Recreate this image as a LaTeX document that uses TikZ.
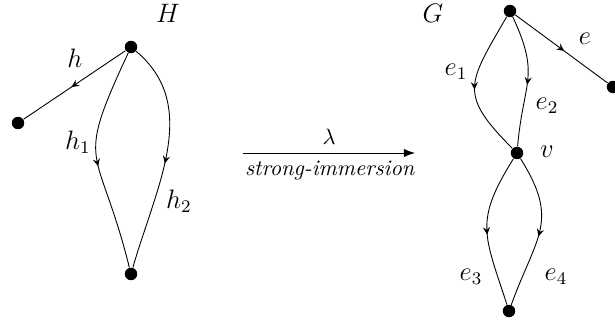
\documentclass[tikz,border=0pt]{standalone}
\usepackage{amsmath,amssymb}
\usetikzlibrary{arrows.meta,decorations.markings,positioning}

\begin{document}
\begin{tikzpicture}[
  x=0.45pt, y=0.45pt,
  vtx/.style={circle, fill=black, inner sep=0pt, minimum size=5.6pt},
  lbl/.style={font=\large},
  midarr/.style={postaction={decorate}, decoration={markings,
                 mark=at position 0.53 with {\arrow{Stealth[length=3.4pt,width=3.2pt,inset=1.2pt]}}}}
]
  \useasboundingbox (0,0) rectangle (615,324);

  % graph H
  \node[vtx] (Ht) at (131,277) {};
  \node[vtx] (Hl) at (18,201) {};
  \node[vtx] (Hb) at (131,50) {};
  \node[lbl] (Hname) at (168,311) {$H$};

  \draw[midarr] (Ht) -- (Hl);
  \draw[midarr] (Ht) to[out=245, in=104, looseness=1.55] (Hb);
  \draw[midarr] (Ht) to[out=-40, in=74] (Hb);

  \node[lbl] (lh)  at (75,266)  {$h$};
  \node[lbl] (lh1) at (78,182)  {$h_1$};
  \node[lbl] (lh2) at (179,123) {$h_2$};

  % the map
  \coordinate (mapA) at (243,171);
  \coordinate (mapB) at (415,171);
  \draw[-{Latex[length=5pt]}] (mapA) -- (mapB);
  \node (lam) at (329,187) {$\lambda$};
  \node (imm) at (330,153) {\textit{strong-immersion}};

  % graph G
  \node[vtx] (Gt) at (510,313) {};
  \node[vtx] (Gr) at (613,237) {};
  \node[vtx] (Gv) at (517,171) {};
  \node[vtx] (Gb) at (509,13) {};
  \node[lbl] (Gname) at (433,311) {$G$};

  \draw[midarr] (Gt) -- (Gr);
  \draw[midarr] (Gt) to[out=240, in=135, looseness=1.5] (Gv);
  \draw[midarr] (Gt) to[out=-65, in=85, looseness=1.3] (Gv);
  \draw[midarr] (Gv) to[out=238, in=108, looseness=1.3] (Gb);
  \draw[midarr] (Gv) to[out=-58, in=70, looseness=1.3] (Gb);

  \node[lbl] (le)  at (585,285) {$e$};
  \node[lbl] (le1) at (456,252) {$e_1$};
  \node[lbl] (le2) at (547,218) {$e_2$};
  \node[lbl] (lv)  at (547,172) {$v$};
  \node[lbl] (le3) at (471,47)  {$e_3$};
  \node[lbl] (le4) at (556,47)  {$e_4$};
\end{tikzpicture}
\end{document}
